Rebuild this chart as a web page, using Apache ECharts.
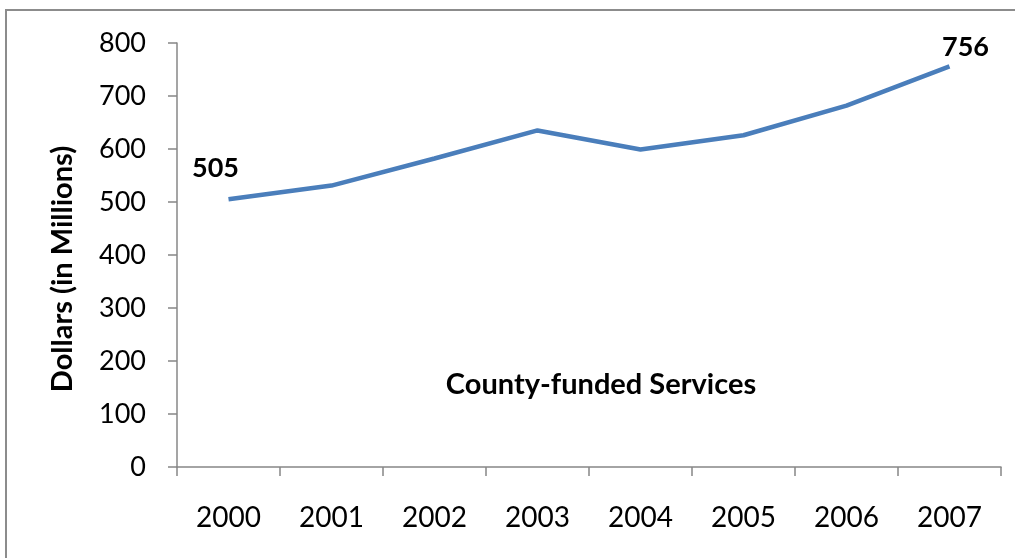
<!DOCTYPE html>
<html>
<head>
<meta charset="utf-8">
<script src="https://cdn.jsdelivr.net/npm/echarts@6/dist/echarts.min.js"></script>
<style>
  html, body { margin: 0; padding: 0; background: #fff; }
  #chart { width: 1015px; height: 558px; }
</style>
</head>
<body>
<div id="chart"></div>
<script>
// Annual spending on county-funded services, in millions of dollars
const years = ['2000', '2001', '2002', '2003', '2004', '2005', '2006', '2007'];
const spending = [505, 531, 582, 635, 599, 626, 682, 756];
const yTicks = { min: 0, max: 800, interval: 100 };

const FONT = 'Lato, "Open Sans", sans-serif';
const AXIS_GREY = '#878787';

const chart = echarts.init(document.getElementById('chart'));

// Value callouts on the first and last year only
const labelPos = { 0: [-13, -31], 7: [16, -19] };

chart.setOption({
  animation: false,
  backgroundColor: '#ffffff',
  graphic: [
    {
      type: 'rect',
      shape: { x: 6, y: 10, width: 1020, height: 560 },
      style: { fill: 'none', stroke: '#8c8c8c', lineWidth: 2 },
      silent: true
    },
    {
      // vertical axis title
      type: 'text',
      x: 63,
      y: 269,
      rotation: Math.PI / 2,
      style: {
        text: 'Dollars (in Millions)',
        font: 'bold 29px ' + FONT,
        fill: '#000',
        textAlign: 'center',
        textVerticalAlign: 'middle'
      }
    },
    {
      type: 'text',
      x: 601,
      y: 385,
      style: {
        text: 'County-funded Services',
        font: 'bold 29px ' + FONT,
        fill: '#000',
        textAlign: 'center',
        textVerticalAlign: 'middle'
      }
    }
  ],
  grid: { left: 177, right: 14, top: 43, bottom: 91 },
  xAxis: {
    type: 'category',
    data: years,
    boundaryGap: true,
    axisLine: { lineStyle: { color: AXIS_GREY, width: 1.5 } },
    axisTick: { show: true, length: 9, alignWithLabel: false, lineStyle: { color: AXIS_GREY, width: 1.5 } },
    axisLabel: { color: '#000', fontFamily: FONT, fontSize: 28, margin: 37 }
  },
  yAxis: {
    type: 'value',
    min: yTicks.min,
    max: yTicks.max,
    interval: yTicks.interval,
    splitLine: { show: false },
    axisLine: { show: true, lineStyle: { color: AXIS_GREY, width: 1.5 } },
    axisTick: { show: true, length: 9, lineStyle: { color: AXIS_GREY, width: 1.5 } },
    axisLabel: { color: '#000', fontFamily: FONT, fontSize: 27, margin: 31 }
  },
  series: [
    {
      type: 'line',
      data: spending.map((v, i) => ({
        value: v,
        label: labelPos[i] ? {
          show: true,
          position: labelPos[i],
          align: 'center',
          verticalAlign: 'middle',
          formatter: '{c}',
          color: '#000',
          fontFamily: FONT,
          fontSize: 27,
          fontWeight: 'bold'
        } : { show: false }
      })),
      symbol: 'circle',
      symbolSize: 0,
      showSymbol: true,
      lineStyle: { color: '#4A7EBB', width: 4.5 },
      itemStyle: { color: '#4A7EBB' }
    }
  ]
});
</script>
</body>
</html>
